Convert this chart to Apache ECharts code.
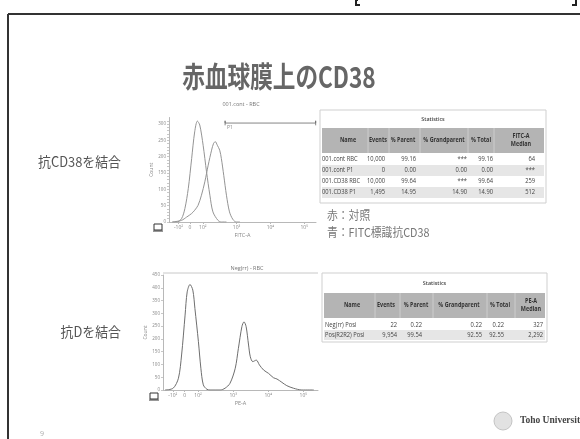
<!DOCTYPE html>
<html><head><meta charset="utf-8">
<script src="https://cdn.jsdelivr.net/npm/echarts@6/dist/echarts.min.js"></script>
<style>html,body{margin:0;padding:0;background:#fff}#c{width:580px;height:439px}</style>
</head><body><div id="c"></div>
<script>
// ---- biexponential axis ticks (axis unit = decades) ----
const tickPositions = [1.28, 1.62, 2, 3, 4, 5];
const tickLabels = ['-10²', '0', '10²', '10³', '10⁴', '10⁵'];

// ---- top histogram: control (001.cont) ----
const ctrlPos   = [1.10, 1.23, 1.37, 1.47, 1.57, 1.67, 1.76, 1.84, 1.91, 2.01, 2.11, 2.21, 2.30, 2.45, 2.55, 2.70];
const ctrlCount = [0,    0,    10,   41,   102,  194,  276,  309,  297,  235,  154,  82,   31,   5,    0,    0];
// ---- top histogram: FITC anti-CD38 ----
const cd38Pos   = [1.10, 1.37, 1.52, 1.67, 1.76, 1.86, 1.96, 2.06, 2.16, 2.26, 2.32, 2.37, 2.43, 2.50, 2.55, 2.62, 2.70, 2.79, 2.89, 2.99, 3.10];
const cd38Count = [0,    5,    15,   26,   36,   51,   82,   123,  174,  220,  241,  246,  235,  220,  194,  143,  82,   31,   8,    0,    0];
// ---- gate P1 ----
const gateRange = [2.66, 5.34];
const gateLevel = 303;

// ---- bottom histogram: anti-D ----
const antiDPos   = [1.06, 1.29, 1.44, 1.53, 1.63, 1.69, 1.77, 1.85, 1.91, 2.01, 2.08, 2.15, 2.25, 2.34, 2.63, 2.77, 2.91, 3.06, 3.15, 3.25, 3.31, 3.37, 3.44, 3.49, 3.56, 3.66, 3.75, 3.87, 4.01, 4.15, 4.25, 4.39, 4.53, 4.72, 4.96, 5.30];
const antiDCount = [0,    7,    46,   137,  293,  384,  413,  391,  319,  189,  85,   20,   3,    0,    0,    7,    26,   85,   163,  248,  267,  248,  176,  130,  111,  117,  98,   78,   65,   48,   43,   30,   17,   7,    0,    0];

// ---- y ticks ----
const topYTicks = [0, 50, 100, 150, 200, 250, 300];
const botYTicks = [0, 50, 100, 150, 200, 250, 300, 350, 400, 450];

// ---- statistics tables ----
const stat1Header = ['Name', 'Events', '% Parent', '% Grandparent', '% Total', 'FITC-A\nMedian'];
const stat1Names  = ['001.cont RBC', '001.cont P1', '001.CD38 RBC', '001.CD38 P1'];
const stat1Events = ['10,000', '0', '10,000', '1,495'];
const stat1Parent = ['99.16', '0.00', '99.64', '14.95'];
const stat1Grand  = ['***', '0.00', '***', '14.90'];
const stat1Total  = ['99.16', '0.00', '99.64', '14.90'];
const stat1Median = ['64', '***', '259', '512'];

const stat2Header = ['Name', 'Events', '% Parent', '% Grandparent', '% Total', 'PE-A\nMedian'];
const stat2Names  = ['Neg(rr) Posi', 'Pos(R2R2) Posi'];
const stat2Events = ['22', '9,954'];
const stat2Parent = ['0.22', '99.54'];
const stat2Grand  = ['0.22', '92.55'];
const stat2Total  = ['0.22', '92.55'];
const stat2Median = ['327', '2,292'];

// ---------------------------------------------------------------
const zip = (a, b) => a.map((v, i) => [v, b[i]]);
const tickFmt = v => {
  for (let i = 0; i < tickPositions.length; i++) if (Math.abs(v - tickPositions[i]) < 1e-6) return tickLabels[i];
  return '';
};
const smallFont = '"Open Sans", "Noto Sans", sans-serif';

function xAx(grid, min, max, name) {
  return {
    type: 'value', gridIndex: grid, min: min, max: max,
    axisLine: { show: true, lineStyle: { color: '#b8b8b8', width: 1 } },
    axisTick: { show: true, customValues: tickPositions, length: 2, lineStyle: { color: '#b8b8b8' } },
    axisLabel: { show: true, customValues: tickPositions, formatter: tickFmt, fontSize: 5, color: '#888', margin: 3, fontFamily: smallFont },
    splitLine: { show: false },
    name: name, nameLocation: 'middle', nameGap: 10, nameTextStyle: { fontSize: 5.5, color: '#888', fontFamily: smallFont }
  };
}
function yAx(grid, max, ticks, minor) {
  return {
    type: 'value', gridIndex: grid, min: 0, max: max,
    axisLine: { show: true, lineStyle: { color: '#b8b8b8', width: 1 } },
    axisTick: { show: true, customValues: minor, length: 2, lineStyle: { color: '#c8c8c8' } },
    axisLabel: { show: true, customValues: ticks, fontSize: 4.5, color: '#888', margin: 3, fontFamily: smallFont },
    splitLine: { show: false },
    name: 'Count', nameLocation: 'middle', nameRotate: 90, nameGap: 11,
    nameTextStyle: { fontSize: 5, color: '#888', fontFamily: smallFont }
  };
}
const topMinor = []; for (let v = 0; v <= 310; v += 10) topMinor.push(v);
const botMinor = botYTicks.slice();

// ---- table builder ----
function buildTable(t) {
  const els = [];
  const nRows = t.cols[0].length;
  const bottom = t.rowTop + nRows * t.rowH;
  els.push({ type: 'rect', shape: { x: t.x, y: t.y, width: t.w, height: bottom - t.y + t.pad }, style: { fill: '#fff', stroke: '#cfcfcf', lineWidth: 1 } });
  els.push({ type: 'text', x: t.x + t.w / 2, y: t.titleY, scaleX: 0.9, style: { text: 'Statistics', font: '600 6px ' + smallFont, fill: '#444', align: 'center', verticalAlign: 'middle' } });
  els.push({ type: 'rect', shape: { x: t.x + 2, y: t.headTop, width: t.w - 4, height: t.headH }, style: { fill: '#b4b4b4' } });
  t.seps.forEach(sx => els.push({ type: 'line', shape: { x1: sx, y1: t.headTop, x2: sx, y2: t.headTop + t.headH }, style: { stroke: '#d4d4d4', lineWidth: 0.8 } }));
  t.header.forEach((h, i) => els.push({ type: 'text', x: t.headX[i], y: t.headTop + t.headH / 2, scaleX: 0.85,
    style: { text: h, font: 'bold 6.4px ' + smallFont, fill: '#333', align: 'center', verticalAlign: 'middle', lineHeight: 8 } }));
  for (let r = 0; r < nRows; r++) {
    const ry = t.rowTop + r * t.rowH;
    if (t.shade.indexOf(r) >= 0) els.push({ type: 'rect', shape: { x: t.x + 2, y: ry, width: t.w - 4, height: t.rowH }, style: { fill: '#e6e6e6' } });
    t.cols.forEach((col, c) => {
      els.push({ type: 'text', x: c === 0 ? t.nameX : t.rightX[c - 1], y: ry + t.rowH / 2, scaleX: 0.9,
        style: { text: col[r], font: '6.4px ' + smallFont, fill: '#444', align: c === 0 ? 'left' : 'right', verticalAlign: 'middle' } });
    });
  }
  return els;
}

const table1 = buildTable({
  x: 320, y: 110, w: 226, pad: 5, titleY: 119, headTop: 128, headH: 25, rowTop: 154, rowH: 11,
  seps: [368, 389, 420, 468, 494], header: stat1Header, headX: [348, 378, 403, 444, 481, 521],
  nameX: 322, rightX: [385, 416, 467, 493, 535], shade: [1, 3],
  cols: [stat1Names, stat1Events, stat1Parent, stat1Grand, stat1Total, stat1Median]
});
const table2 = buildTable({
  x: 322, y: 273, w: 225, pad: 2, titleY: 283, headTop: 293, headH: 25, rowTop: 320, rowH: 10,
  seps: [375, 400, 433, 487, 515], header: stat2Header, headX: [352, 386, 416, 459, 500, 531],
  nameX: 325, rightX: [397, 422, 482, 504, 543], shade: [1],
  cols: [stat2Names, stat2Events, stat2Parent, stat2Grand, stat2Total, stat2Median]
});

const cjk = '"Noto Sans CJK JP", sans-serif';
const slideGraphics = [
  // slide frame
  { type: 'line', shape: { x1: 8, y1: 14, x2: 580, y2: 14 }, style: { stroke: '#333', lineWidth: 2 } },
  { type: 'line', shape: { x1: 8, y1: 14, x2: 8, y2: 439 }, style: { stroke: '#333', lineWidth: 2 } },
  { type: 'polyline', shape: { points: [[358, 0], [356, 0], [356, 5], [360, 5]] }, style: { stroke: '#222', lineWidth: 2, fill: null } },
  { type: 'polyline', shape: { points: [[572, 5], [576, 5], [576, 0]] }, style: { stroke: '#222', lineWidth: 2, fill: null } },
  // title
  { type: 'text', x: 279, y: 77, scaleX: 0.78, style: { text: '赤血球膜上のCD38', font: 'bold 29px ' + cjk, fill: '#666', align: 'center', verticalAlign: 'middle' } },
  // side labels
  { type: 'text', x: 121, y: 162, scaleX: 0.92, style: { text: '抗CD38を結合', font: '14px ' + cjk, fill: '#555', align: 'right', verticalAlign: 'middle' } },
  { type: 'text', x: 121, y: 332, scaleX: 0.92, style: { text: '抗Dを結合', font: '14px ' + cjk, fill: '#555', align: 'right', verticalAlign: 'middle' } },
  // legend text
  { type: 'text', x: 327, y: 215, scaleX: 0.9, style: { text: '赤：対照', font: '12px ' + cjk, fill: '#777', align: 'left', verticalAlign: 'middle' } },
  { type: 'text', x: 327, y: 232, scaleX: 0.9, style: { text: '青：FITC標識抗CD38', font: '12px ' + cjk, fill: '#777', align: 'left', verticalAlign: 'middle' } },
  // chart titles
  { type: 'text', x: 241, y: 104, style: { text: '001.cont - RBC', font: '5.5px ' + smallFont, fill: '#777', align: 'center', verticalAlign: 'middle' } },
  { type: 'text', x: 247, y: 268, style: { text: 'Neg(rr) - RBC', font: '5.5px ' + smallFont, fill: '#777', align: 'center', verticalAlign: 'middle' } },
  { type: 'line', shape: { x1: 163, y1: 273, x2: 318, y2: 273 }, style: { stroke: '#c8c8c8', lineWidth: 1 } },
  { type: 'text', x: 227, y: 128, style: { text: 'P1', font: '5px ' + smallFont, fill: '#888', align: 'left', verticalAlign: 'middle' } },
  // FACS icons
  { type: 'rect', shape: { x: 154, y: 224, width: 8, height: 6 }, style: { fill: null, stroke: '#333', lineWidth: 1 } },
  { type: 'line', shape: { x1: 153, y1: 231, x2: 163, y2: 231 }, style: { stroke: '#333', lineWidth: 1 } },
  { type: 'rect', shape: { x: 150, y: 393, width: 8, height: 6 }, style: { fill: null, stroke: '#333', lineWidth: 1 } },
  { type: 'line', shape: { x1: 149, y1: 400, x2: 159, y2: 400 }, style: { stroke: '#333', lineWidth: 1 } },
  // page number
  { type: 'text', x: 42, y: 434, style: { text: '9', font: '7px ' + smallFont, fill: '#aaa', align: 'center', verticalAlign: 'middle' } },
  // logo
  { type: 'circle', shape: { cx: 503, cy: 421, r: 9 }, style: { fill: '#e2e2e2', stroke: '#c4c4c4', lineWidth: 1 } },
  { type: 'text', x: 520, y: 421, style: { text: 'Toho University', font: '600 9.5px "Liberation Serif", serif', fill: '#444', align: 'left', verticalAlign: 'middle' } }
];

const chart = echarts.init(document.getElementById('c'), null, { renderer: 'canvas' });
chart.setOption({
  animation: false,
  backgroundColor: '#fff',
  grid: [
    { left: 169, top: 117.5, width: 147, height: 104.5 },
    { left: 163, top: 275, width: 155, height: 115 }
  ],
  xAxis: [xAx(0, 1.0, 5.35, 'FITC-A'), xAx(1, 1.0, 5.42, 'PE-A')],
  yAxis: [yAx(0, 320, topYTicks, topMinor), yAx(1, 450, botYTicks, botMinor)],
  series: [
    { type: 'line', xAxisIndex: 0, yAxisIndex: 0, data: zip(ctrlPos, ctrlCount), showSymbol: false, smooth: 0.3,
      lineStyle: { color: '#949494', width: 1 } },
    { type: 'line', xAxisIndex: 0, yAxisIndex: 0, data: zip(cd38Pos, cd38Count), showSymbol: false, smooth: 0.3,
      lineStyle: { color: '#949494', width: 1 } },
    { type: 'line', xAxisIndex: 0, yAxisIndex: 0, showSymbol: false, smooth: false,
      data: [[gateRange[0], gateLevel - 7], [gateRange[0], gateLevel + 7], [gateRange[0], gateLevel], [gateRange[1], gateLevel], [gateRange[1], gateLevel + 7], [gateRange[1], gateLevel - 7]],
      lineStyle: { color: '#666', width: 0.8 } },
    { type: 'line', xAxisIndex: 1, yAxisIndex: 1, data: zip(antiDPos, antiDCount), showSymbol: false, smooth: 0.3,
      lineStyle: { color: '#6e6e6e', width: 1 } }
  ],
  graphic: { elements: slideGraphics.concat(table1, table2) }
});
</script></body></html>
